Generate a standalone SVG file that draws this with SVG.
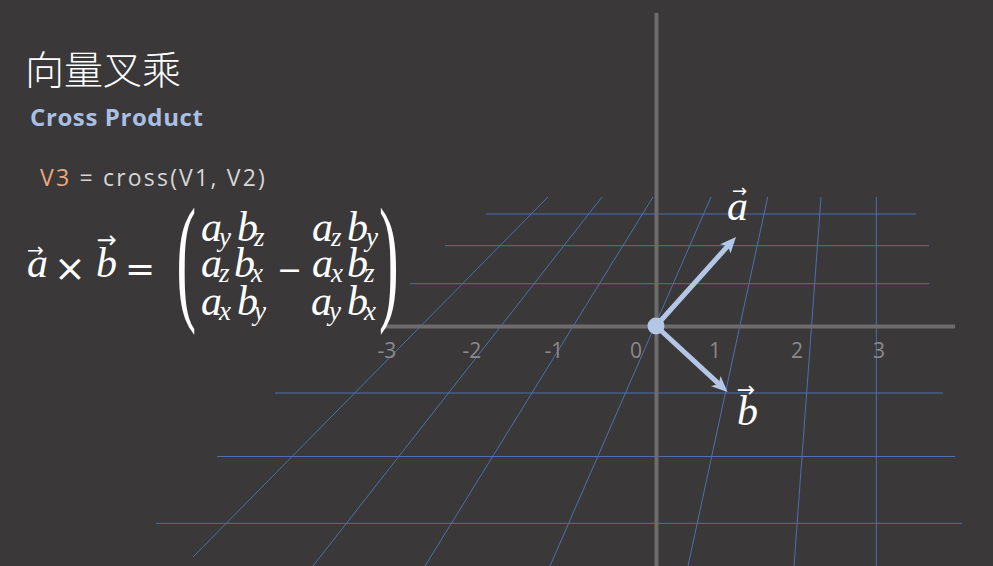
<svg xmlns="http://www.w3.org/2000/svg" width="993" height="566" viewBox="0 0 993 566">
<style>
.grid line{stroke:#4d6fb0;stroke-width:1}
.axis{stroke:#6d6b6c;stroke-width:4}
.tick{font-family:"Open Sans","Liberation Sans",sans-serif;font-size:21px;fill:#8b898a;text-anchor:middle}
.m{font-family:"Liberation Serif",serif;font-style:italic;font-size:42px;fill:#fff}
.s{font-family:"Liberation Serif",serif;font-style:italic;font-size:27px;fill:#fff}
.op{font-family:"DejaVu Sans",sans-serif;fill:#fff}
.acc{font-family:"DejaVu Sans",sans-serif;fill:#fff}
.par{font-family:"Liberation Serif",serif;font-size:140px;fill:#fff}
.vec{stroke:#b3c6e6;stroke-width:5;fill:none;marker-end:url(#ah)}
</style>
<defs>
<marker id="ah" markerUnits="userSpaceOnUse" markerWidth="18" markerHeight="16" viewBox="0 -8 18 16" refX="6" refY="0" orient="auto"><path d="M0,-7 L16,0 L0,7 L4,0 Z" fill="#b3c6e6"/></marker>
</defs>
<rect width="993" height="566" fill="#3a3839"/>
<g id="grid" class="grid">
<line x1="486" y1="214" x2="916" y2="214"/>
<line x1="445" y1="245.7" x2="929" y2="245.7"/>
<line x1="410" y1="283.7" x2="929" y2="283.7"/>
<line x1="275" y1="393" x2="943" y2="393"/>
<line x1="217" y1="456.5" x2="955" y2="456.5"/>
<line x1="156" y1="523.3" x2="962" y2="523.3"/>
<line x1="548" y1="197" x2="193" y2="557"/>
<line x1="602" y1="197" x2="313" y2="566"/>
<line x1="653" y1="197" x2="425" y2="566"/>
<line x1="711" y1="197" x2="550" y2="566"/>
<line x1="767.7" y1="197" x2="688" y2="566"/>
<line x1="821" y1="197" x2="794" y2="566"/>
<line x1="876.3" y1="197" x2="876.3" y2="566"/>
</g>
<g id="axes">
<line class="axis" x1="656.5" y1="13" x2="656.5" y2="566"/>
<line class="axis" x1="383" y1="326.5" x2="955" y2="326.5"/>
</g>
<g id="ticks" class="tick">
<text x="387" y="358">-3</text>
<text x="472" y="358">-2</text>
<text x="554" y="358">-1</text>
<text x="636" y="358">0</text>
<text x="715" y="358">1</text>
<text x="797" y="358">2</text>
<text x="879" y="358">3</text>
</g>
<g id="vectors">
<line class="vec" x1="656" y1="326" x2="729.3" y2="244.4"/>
<line class="vec" x1="656" y1="326" x2="720.2" y2="385.2"/>
<circle cx="656" cy="326" r="8.5" fill="#b3c6e6"/>
</g>
<g id="label-a">
<text class="acc" x="732" y="197" font-size="18">→</text>
<text class="m" x="727" y="220">a</text>
</g>
<g id="label-b">
<text class="acc" x="736.7" y="397" font-size="22">→</text>
<text class="m" x="737" y="425">b</text>
</g>
<g id="title">
<text x="25" y="84" font-family="'Noto Sans CJK SC',sans-serif" font-weight="300" font-size="39" fill="#ffffff">向量叉乘</text>
<text x="30" y="126" font-family="'Open Sans','Liberation Sans',sans-serif" font-weight="700" font-size="24" letter-spacing="0.6" fill="#a9bfe3">Cross Product</text>
<text x="40" y="186" font-family="'Open Sans','Liberation Sans',sans-serif" font-size="23" letter-spacing="2.2" fill="#d6d6d6"><tspan fill="#eaa87a">V3</tspan> = cross(V1, V2)</text>
</g>
<g id="formula">
<text class="acc" x="27" y="257" font-size="20">→</text>
<text class="m" x="27" y="277">a</text>
<text class="op" x="54" y="281" font-size="38">×</text>
<text class="acc" x="96.6" y="248" font-size="24">→</text>
<text class="m" x="96" y="277">b</text>
<text class="op" x="125" y="281" font-size="36">=</text>
<text class="par" transform="translate(176.6,305) scale(0.42,1)">(</text>
<text class="par" transform="translate(379,305) scale(0.42,1)">)</text>
<text class="m" x="201" y="241">a</text><text class="s" x="219" y="246">y</text><text class="m" x="237" y="241">b</text><text class="s" x="254" y="246">z</text>
<text class="m" x="312" y="241">a</text><text class="s" x="331" y="246">z</text><text class="m" x="347" y="241">b</text><text class="s" x="366" y="246">y</text>
<text class="m" x="201" y="277">a</text><text class="s" x="219" y="282">z</text><text class="m" x="234" y="277">b</text><text class="s" x="251" y="282">x</text>
<text class="op" x="277" y="280" font-size="30">−</text>
<text class="m" x="312" y="277">a</text><text class="s" x="331" y="282">x</text><text class="m" x="347" y="277">b</text><text class="s" x="364" y="282">z</text>
<text class="m" x="201" y="315">a</text><text class="s" x="219" y="320">x</text><text class="m" x="237" y="315">b</text><text class="s" x="254" y="320">y</text>
<text class="m" x="311" y="315">a</text><text class="s" x="329" y="320">y</text><text class="m" x="347" y="315">b</text><text class="s" x="364" y="320">x</text>
</g>
</svg>
